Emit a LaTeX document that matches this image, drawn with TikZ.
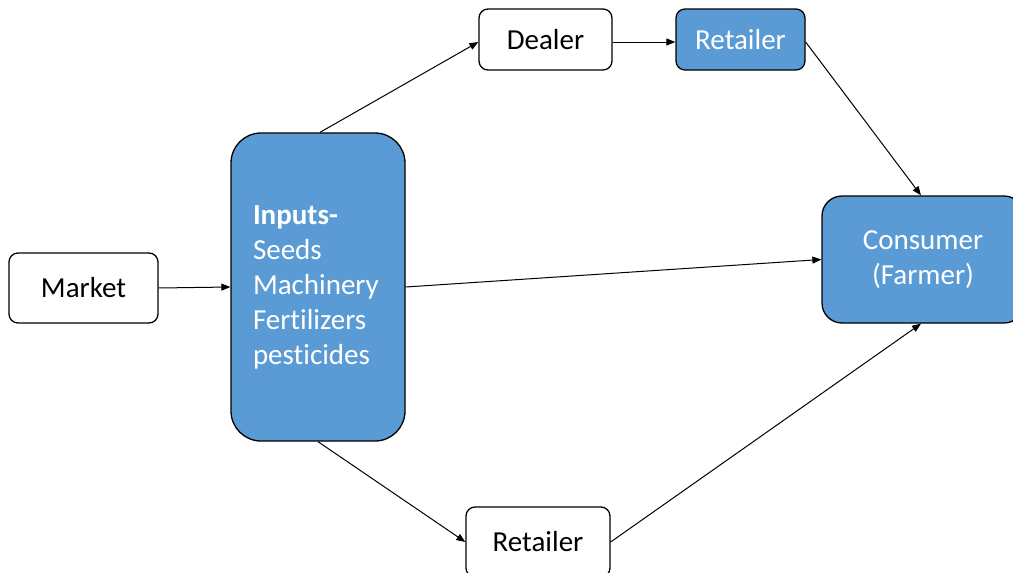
\documentclass[tikz,border=0pt]{standalone}
\usepackage{fontspec}
\setmainfont{Carlito}[Ligatures={NoCommon}]
\usetikzlibrary{arrows.meta}
\definecolor{boxblue}{HTML}{5B9BD5}
\tikzset{
  box/.style={draw=black, line width=1.3pt, rounded corners=9pt, inner sep=0pt,
    font=\fontsize{29}{35}\selectfont, align=center},
  whitebox/.style={box, fill=white, text=black},
  bluebox/.style={box, fill=boxblue, text=white},
  link/.style={draw=black, line width=1pt, -{Triangle[length=9pt,width=7pt]}}
}
\begin{document}
\begin{tikzpicture}[x=1pt,y=1pt]
\useasboundingbox (0,0) rectangle (1013,-573);
% boxes
\node[whitebox, minimum width=149, minimum height=70] (market) at (83.5,-288) {Market};
\node[bluebox, rounded corners=30pt, minimum width=174, minimum height=308, align=left] (inp) at (318,-287)
  {\raisebox{-3pt}{\parbox{130pt}{\textbf{Inputs-}\\Seeds\\Machinery\\Fertilizers\\pesticides}}};
\node[whitebox, minimum width=133, minimum height=61] (dealer) at (545.5,-39.5) {Dealer};
\node[bluebox, minimum width=129, minimum height=61] (rtop) at (740.5,-39.5) {Retailer};
\node[bluebox, rounded corners=20pt, minimum width=202, minimum height=127] (cons) at (923,-259.5)
  {\raisebox{-3pt}{\parbox{190pt}{\centering Consumer\\(Farmer)}}};
\node[whitebox, minimum width=144, minimum height=70] (rbot) at (538,-542) {Retailer};
% connectors
\draw[link] (market.east) -- (inp.west);
\draw[link] ([xshift=2pt]inp.north) -- ([yshift=-2.5pt]dealer.west);
\draw[link] ([yshift=-2.5pt]dealer.east) -- ([yshift=-2.5pt]rtop.west);
\draw[link] ([yshift=-2.5pt]rtop.east) -- ([xshift=-2pt]cons.north);
\draw[link] (inp.east) -- (cons.west);
\draw[link] (inp.south) -- (rbot.west);
\draw[link] (rbot.east) -- ([xshift=-2pt]cons.south);
\end{tikzpicture}
\end{document}
